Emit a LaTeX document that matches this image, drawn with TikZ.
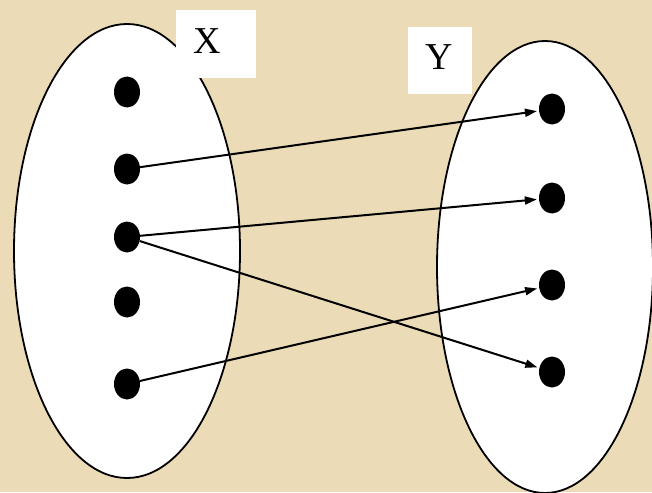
\documentclass[tikz,border=0pt]{standalone}
\usepackage{fontspec}
\setmainfont{Liberation Serif}
\usetikzlibrary{shapes.geometric,arrows.meta}
\definecolor{parch}{RGB}{236,219,183}
\tikzset{
  setshape/.style={draw=black,line width=1.8pt,fill=white,ellipse,inner sep=0pt},
  dot/.style={ellipse,fill=black,minimum width=26pt,minimum height=31pt,inner sep=0pt},
  lblbox/.style={fill=white,inner sep=0pt},
  lbltext/.style={inner sep=0pt,font=\fontsize{38}{38}\selectfont},
  map/.style={line width=2pt,-{Triangle[length=12pt,width=8pt]},shorten >=2pt}
}
\begin{document}
\begin{tikzpicture}[x=1pt,y=-1pt]
\fill[parch] (0,0) rectangle (652,492);
\useasboundingbox (0,0) rectangle (652,492);
\begin{scope}
\clip (0,0) rectangle (652,492);
\node[setshape,minimum width=226pt,minimum height=454pt] (A) at (127,251) {};
\node[setshape,minimum width=216pt,minimum height=452pt] (B) at (545,267) {};
\end{scope}
\node[lblbox,minimum width=80pt,minimum height=68pt] (X) at (216,44) {};
\node[lbltext] (Xt) at (207,41) {X};
\node[lblbox,minimum width=64pt,minimum height=67pt] (Y) at (440,61) {};
\node[lbltext] (Yt) at (439,57) {Y};
\node[dot] (x1) at (127,92) {};
\node[dot] (x2) at (127,169) {};
\node[dot] (x3) at (127,237) {};
\node[dot] (x4) at (127,302) {};
\node[dot] (x5) at (127,384) {};
\node[dot] (y1) at (552,109) {};
\node[dot] (y2) at (552,198) {};
\node[dot] (y3) at (552,285) {};
\node[dot] (y4) at (552,372) {};
\draw[map] (x2) -- (y1);
\draw[map] (x3) -- (y2);
\draw[map] (x3) -- (y4);
\draw[map] (x5) -- (y3);
\end{tikzpicture}
\end{document}
